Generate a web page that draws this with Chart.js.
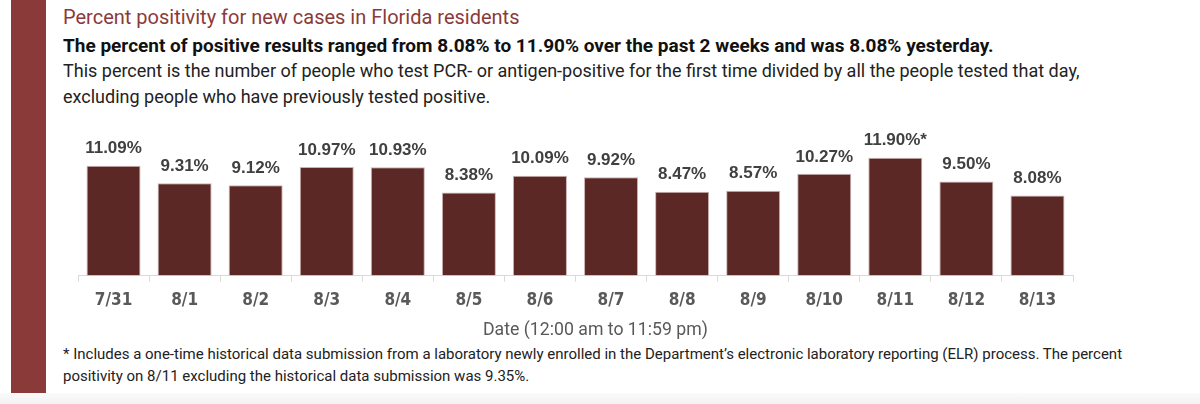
<!DOCTYPE html>
<html>
<head>
<meta charset="utf-8">
<script src="https://cdn.jsdelivr.net/npm/chart.js@4.4.1/dist/chart.umd.min.js"></script>
<style>
  html, body { margin: 0; padding: 0; background: #fff; }
  #page { position: relative; width: 1200px; height: 404px; overflow: hidden; background: #fff; }
  #banda { position: absolute; left: 11px; top: 0; width: 35px; height: 393px; background: #8b3a3a; }
  #pie { position: absolute; left: 0; top: 393px; width: 1200px; height: 11px; background: linear-gradient(#fafafa, #f2f2f2); }
  .txt { position: absolute; left: 63px; white-space: nowrap; font-family: Roboto, "Liberation Sans", sans-serif; }
  #titulo { top: 5px; font-size: 20px; color: #8b3a3a; }
  #subtitulo { top: 34px; font-size: 19px; font-weight: bold; color: #111; }
  #linea1 { top: 60px; font-size: 18px; color: #222; }
  #linea2 { top: 86px; font-size: 18px; color: #222; }
  #nota1 { top: 345px; font-size: 15px; color: #222; }
  #nota2 { top: 367px; font-size: 15px; color: #222; }
  #ejeX { position: absolute; left: 483px; top: 318px; white-space: nowrap; font-family: Roboto, sans-serif; font-size: 18px; color: #595959; transform-origin: left center; }
  #graficoBox { position: absolute; left: 60px; top: 125px; width: 1031px; height: 195px; }
</style>
</head>
<body>
<div id="page">
  <div id="banda"></div>
  <div id="pie"></div>
  <div class="txt" id="titulo">Percent positivity for new cases in Florida residents</div>
  <div class="txt" id="subtitulo">The percent of positive results ranged from 8.08% to 11.90% over the past 2 weeks and was 8.08% yesterday.</div>
  <div class="txt" id="linea1">This percent is the number of people who test PCR- or antigen-positive for the first time divided by all the people tested that day,</div>
  <div class="txt" id="linea2">excluding people who have previously tested positive.</div>
  <div id="graficoBox"><canvas id="grafico"></canvas></div>
  <div id="ejeX">Date (12:00 am to 11:59 pm)</div>
  <div class="txt" id="nota1">* Includes a one-time historical data submission from a laboratory newly enrolled in the Department’s electronic laboratory reporting (ELR) process. The percent</div>
  <div class="txt" id="nota2">positivity on 8/11 excluding the historical data submission was 9.35%.</div>
</div>
<script>
// Datos
const fechas = ['7/31', '8/1', '8/2', '8/3', '8/4', '8/5', '8/6', '8/7', '8/8', '8/9', '8/10', '8/11', '8/12', '8/13'];
const positividad = [11.09, 9.31, 9.12, 10.97, 10.93, 8.38, 10.09, 9.92, 8.47, 8.57, 10.27, 11.90, 9.50, 8.08];
const etiquetas = ['11.09%', '9.31%', '9.12%', '10.97%', '10.93%', '8.38%', '10.09%', '9.92%', '8.47%', '8.57%', '10.27%', '11.90%*', '9.50%', '8.08%'];

// Título del eje un poco condensado, como en el original
const ejeX = document.getElementById('ejeX');
ejeX.style.transform = 'scaleX(' + (225 / ejeX.offsetWidth) + ')';

// Etiquetas encima de cada barra
const etiquetasPlugin = {
    id: 'etiquetasBarras',
    afterDatasetsDraw(chart) {
        const ctx = chart.ctx;
        const meta = chart.getDatasetMeta(0);
        ctx.save();
        ctx.font = 'bold 17px "Liberation Sans", Arial, sans-serif';
        ctx.fillStyle = '#404040';
        ctx.textAlign = 'center';
        ctx.textBaseline = 'middle';
        meta.data.forEach((bar, i) => {
            ctx.fillText(etiquetas[i], bar.x, bar.y - 17);
        });
        ctx.restore();
    }
};

const ctx = document.getElementById('grafico').getContext('2d');
new Chart(ctx, {
    type: 'bar',
    data: {
        labels: fechas,
        datasets: [{
            data: positividad,
            backgroundColor: '#5c2825',
            borderColor: '#c9b2b0',
            borderWidth: 1,
            categoryPercentage: 1,
            barPercentage: 0.76
        }]
    },
    options: {
        responsive: true,
        maintainAspectRatio: false,
        animation: false,
        layout: { padding: { left: 18, right: 18, top: 0, bottom: 0 } },
        plugins: {
            legend: { display: false },
            tooltip: { enabled: false }
        },
        scales: {
            x: {
                grid: { drawOnChartArea: false, drawTicks: true, tickLength: 6, color: '#d9d9d9', offset: true },
                border: { display: true, color: '#d9d9d9' },
                ticks: {
                    color: '#595959',
                    padding: 9,
                    font: { family: '"Liberation Sans Narrow", "DejaVu Sans Condensed", sans-serif', size: 17, weight: 'bold' }
                }
            },
            y: {
                display: false,
                min: 0,
                max: 15.2
            }
        }
    },
    plugins: [etiquetasPlugin]
});
</script>
</body>
</html>
